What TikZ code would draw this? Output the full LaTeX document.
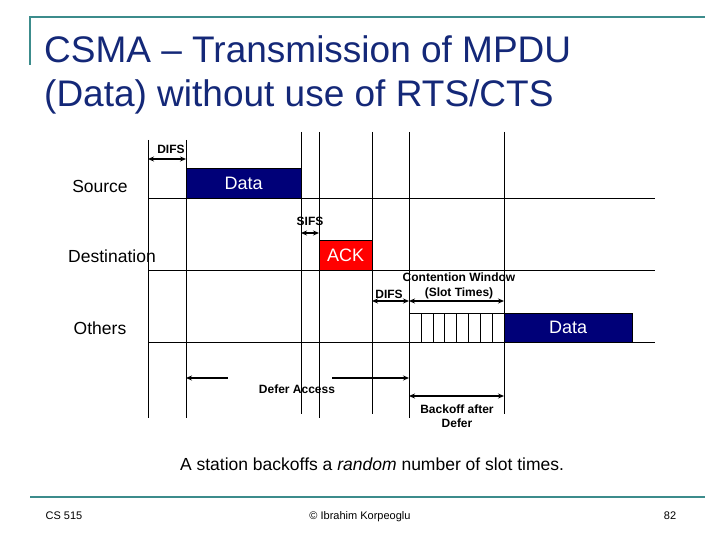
\documentclass[tikz,border=0pt]{standalone}
\usepackage{fontspec}
\setmainfont{Liberation Sans}
\usetikzlibrary{arrows.meta}
\definecolor{navy}{RGB}{0,0,120}
\definecolor{titleblue}{RGB}{20,40,120}
\definecolor{teal1}{RGB}{60,140,140}
\begin{document}
\begin{tikzpicture}[x=1pt,y=-1pt,
  lbl/.style={font=\fontsize{17.5}{20}\selectfont,inner sep=0},
  small/.style={font=\bfseries\fontsize{12}{14.5}\selectfont,inner sep=0,align=center},
  dim/.style={line width=1.3pt,{Stealth[length=6pt,width=5pt]}-{Stealth[length=6pt,width=5pt]}},
  vline/.style={line width=0.7pt},
  hline/.style={line width=0.7pt},
  boxtxt/.style={font=\fontsize{18}{20}\selectfont,inner sep=0,text=white,draw=black,anchor=north west}]
\useasboundingbox (0,0) rectangle (720,540);
\fill[white] (0,0) rectangle (720,540);
% frame
\draw[teal1,line width=1.2pt] (30,65) -- (30,17) -- (705,17);
\draw[teal1,line width=1.2pt] (30,497) -- (705,497);
\node[anchor=north west,align=left,text=titleblue,font=\fontsize{37}{44}\selectfont,inner sep=0] (title) at (44,35) {CSMA – Transmission of MPDU\\(Data) without use of RTS/CTS};
% vertical lines
\foreach \x/\t/\b in {148/140/418,186/140/418,301/132/414,319/132/418,372/132/414,409/132/418,504/132/414}
  \draw[vline] (\x,\t) -- (\x,\b);
% horizontal lines
\foreach \y in {198,270,342} \draw[hline] (148,\y) -- (655,\y);
% row labels
\node[lbl] (src) at (100,186) {Source};
\node[lbl] (dst) at (112,256) {Destination};
\node[lbl] (oth) at (100,328) {Others};
% boxes
\node[boxtxt,fill=navy,minimum width=115pt,minimum height=30pt] (data1) at (186,168) {Data};
\node[boxtxt,fill=red,minimum width=53pt,minimum height=30pt] (ack) at (319,240) {ACK};
\node[boxtxt,fill=navy,minimum width=128pt,minimum height=29pt] (data2) at (504,313) {Data};
\node[draw=black,line width=0.7pt,minimum width=95pt,minimum height=29pt,anchor=north west,inner sep=0] (cw) at (409,313) {};
\foreach \i in {1,...,7} \draw (409+\i*11.875,313) -- (409+\i*11.875,342);
% dimension arrows
\coordinate (d1a) at (148,159); \coordinate (d1b) at (186,159);
\draw[dim] (d1a) -- (d1b);
\node[small] (difs1) at (171,149) {DIFS};
\coordinate (s1a) at (301,233); \coordinate (s1b) at (319,233);
\draw[dim] (s1a) -- (s1b);
\node[small] (sifs) at (310,221) {SIFS};
\coordinate (d2a) at (372,301); \coordinate (d2b) at (409,301);
\draw[dim] (d2a) -- (d2b);
\node[small] (difs2) at (389,294) {DIFS};
\coordinate (c1a) at (409,301); \coordinate (c1b) at (504,301);
\draw[dim] (c1a) -- (c1b);
\node[small] (cwl) at (459,286) {Contention Window\\(Slot Times)};
\coordinate (fa) at (186,378); \coordinate (fb) at (409,378);
\coordinate (fm1) at (228,378); \coordinate (fm2) at (332,378);
\draw[line width=1.3pt,{Stealth[length=6pt,width=5pt]}-] (fa) -- (fm1);
\draw[line width=1.3pt,-{Stealth[length=6pt,width=5pt]}] (fm2) -- (fb);
\node[small] (defer) at (297,389) {Defer Access};
\coordinate (ba) at (409,396); \coordinate (bb) at (504,396);
\draw[dim] (ba) -- (bb);
\node[small] (back) at (457,416) {Backoff after\\Defer};
% caption and footer
\node[font=\fontsize{17.5}{19}\selectfont,inner sep=0] (cap) at (372,464) {A station backoffs a \textit{random} number of slot times.};
\node[font=\fontsize{11}{13}\selectfont,inner sep=0] (f1) at (64,516) {CS 515};
\node[font=\fontsize{11}{13}\selectfont,inner sep=0] (f2) at (360,517) {© Ibrahim Korpeoglu};
\node[font=\fontsize{11}{13}\selectfont,inner sep=0] (f3) at (670,516) {82};
\end{tikzpicture}
\end{document}
